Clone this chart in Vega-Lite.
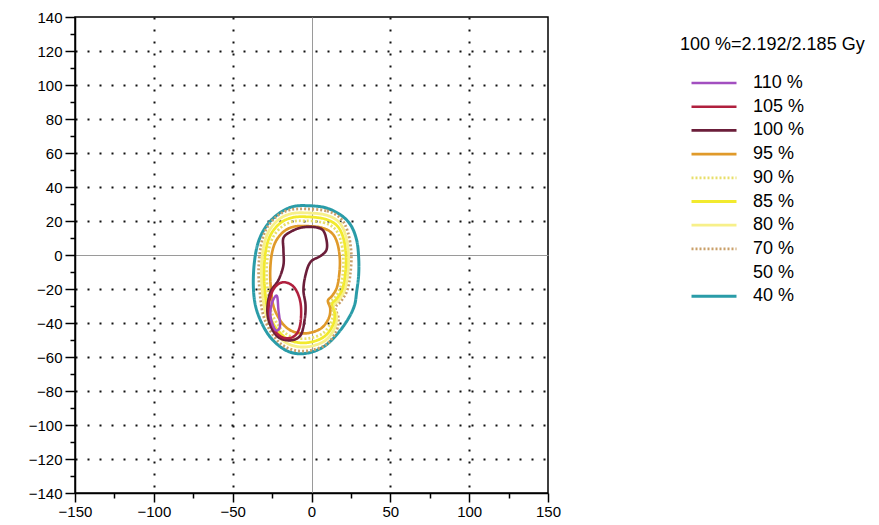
{
  "$schema": "https://vega.github.io/schema/vega-lite/v6.json",
  "width": 473,
  "height": 476,
  "autosize": {"type": "none"},
  "padding": {"left": 75, "top": 17, "right": 331, "bottom": 32},
  "background": "white",
  "config": {
    "view": {"stroke": "black", "strokeWidth": 1.5},
    "font": "Liberation Sans"
  },
  "data": {
    "values": [
      {"l": "40 %", "o": 1, "x": -2.5, "y": 29},
      {"l": "40 %", "o": 2, "x": 8.9, "y": 27.8},
      {"l": "40 %", "o": 3, "x": 18.4, "y": 23.6},
      {"l": "40 %", "o": 4, "x": 24.8, "y": 17.7},
      {"l": "40 %", "o": 5, "x": 28.6, "y": 8.9},
      {"l": "40 %", "o": 6, "x": 29.9, "y": -1.2},
      {"l": "40 %", "o": 7, "x": 29.9, "y": -11.8},
      {"l": "40 %", "o": 8, "x": 28.6, "y": -21.9},
      {"l": "40 %", "o": 9, "x": 27.3, "y": -29.5},
      {"l": "40 %", "o": 10, "x": 23.5, "y": -37.2},
      {"l": "40 %", "o": 11, "x": 17.2, "y": -45.5},
      {"l": "40 %", "o": 12, "x": 8.9, "y": -53.2},
      {"l": "40 %", "o": 13, "x": -0.6, "y": -57.3},
      {"l": "40 %", "o": 14, "x": -10.2, "y": -57.9},
      {"l": "40 %", "o": 15, "x": -18.4, "y": -54.9},
      {"l": "40 %", "o": 16, "x": -26.1, "y": -48.4},
      {"l": "40 %", "o": 17, "x": -31.8, "y": -39.6},
      {"l": "40 %", "o": 18, "x": -35.6, "y": -29.5},
      {"l": "40 %", "o": 19, "x": -36.9, "y": -17.7},
      {"l": "40 %", "o": 20, "x": -36.2, "y": -4.1},
      {"l": "40 %", "o": 21, "x": -33.7, "y": 7.7},
      {"l": "40 %", "o": 22, "x": -28.6, "y": 17.1},
      {"l": "40 %", "o": 23, "x": -21.0, "y": 24.2},
      {"l": "40 %", "o": 24, "x": -12.1, "y": 28.4},

      {"l": "70 %", "o": 1, "x": -3.8, "y": 27.1},
      {"l": "70 %", "o": 2, "x": 9.7, "y": 25.9},
      {"l": "70 %", "o": 3, "x": 18.5, "y": 21.5},
      {"l": "70 %", "o": 4, "x": 23.1, "y": 13.3},
      {"l": "70 %", "o": 5, "x": 25.2, "y": 0.8},
      {"l": "70 %", "o": 6, "x": 24.5, "y": -11.7},
      {"l": "70 %", "o": 7, "x": 22.5, "y": -21.1},
      {"l": "70 %", "o": 8, "x": 18.5, "y": -27.4},
      {"l": "70 %", "o": 9, "x": 15.1, "y": -31.1},
      {"l": "70 %", "o": 10, "x": 17.1, "y": -37.3},
      {"l": "70 %", "o": 11, "x": 15.7, "y": -44.8},
      {"l": "70 %", "o": 12, "x": 9.7, "y": -52.4},
      {"l": "70 %", "o": 13, "x": -0.4, "y": -56.1},
      {"l": "70 %", "o": 14, "x": -10.6, "y": -56.1},
      {"l": "70 %", "o": 15, "x": -19.3, "y": -52.4},
      {"l": "70 %", "o": 16, "x": -26.0, "y": -44.8},
      {"l": "70 %", "o": 17, "x": -30.7, "y": -34.9},
      {"l": "70 %", "o": 18, "x": -32.7, "y": -22.4},
      {"l": "70 %", "o": 19, "x": -33.5, "y": -8.6},
      {"l": "70 %", "o": 20, "x": -32.1, "y": 5.2},
      {"l": "70 %", "o": 21, "x": -28.7, "y": 15.3},
      {"l": "70 %", "o": 22, "x": -22.0, "y": 22.8},
      {"l": "70 %", "o": 23, "x": -13.9, "y": 26.5},

      {"l": "80 %", "o": 1, "x": -3.8, "y": 24.8},
      {"l": "80 %", "o": 2, "x": 8.9, "y": 23.6},
      {"l": "80 %", "o": 3, "x": 17.2, "y": 19.5},
      {"l": "80 %", "o": 4, "x": 21.6, "y": 11.8},
      {"l": "80 %", "o": 5, "x": 23.5, "y": 0.0},
      {"l": "80 %", "o": 6, "x": 22.9, "y": -11.8},
      {"l": "80 %", "o": 7, "x": 21.0, "y": -20.7},
      {"l": "80 %", "o": 8, "x": 17.2, "y": -26.6},
      {"l": "80 %", "o": 9, "x": 14.0, "y": -30.1},
      {"l": "80 %", "o": 10, "x": 15.9, "y": -36.0},
      {"l": "80 %", "o": 11, "x": 14.6, "y": -43.1},
      {"l": "80 %", "o": 12, "x": 8.9, "y": -50.2},
      {"l": "80 %", "o": 13, "x": -0.6, "y": -53.7},
      {"l": "80 %", "o": 14, "x": -10.2, "y": -53.7},
      {"l": "80 %", "o": 15, "x": -18.4, "y": -50.2},
      {"l": "80 %", "o": 16, "x": -24.8, "y": -43.1},
      {"l": "80 %", "o": 17, "x": -29.2, "y": -33.7},
      {"l": "80 %", "o": 18, "x": -31.1, "y": -21.9},
      {"l": "80 %", "o": 19, "x": -31.8, "y": -8.9},
      {"l": "80 %", "o": 20, "x": -30.5, "y": 4.1},
      {"l": "80 %", "o": 21, "x": -27.3, "y": 13.6},
      {"l": "80 %", "o": 22, "x": -21.0, "y": 20.7},
      {"l": "80 %", "o": 23, "x": -13.3, "y": 24.2},

      {"l": "85 %", "o": 1, "x": -3.8, "y": 22.5},
      {"l": "85 %", "o": 2, "x": 8.1, "y": 21.3},
      {"l": "85 %", "o": 3, "x": 15.9, "y": 17.5},
      {"l": "85 %", "o": 4, "x": 20.1, "y": 10.3},
      {"l": "85 %", "o": 5, "x": 21.9, "y": -0.8},
      {"l": "85 %", "o": 6, "x": 21.3, "y": -11.9},
      {"l": "85 %", "o": 7, "x": 19.5, "y": -20.3},
      {"l": "85 %", "o": 8, "x": 15.9, "y": -25.8},
      {"l": "85 %", "o": 9, "x": 12.9, "y": -29.1},
      {"l": "85 %", "o": 10, "x": 14.7, "y": -34.7},
      {"l": "85 %", "o": 11, "x": 13.5, "y": -41.4},
      {"l": "85 %", "o": 12, "x": 8.1, "y": -48.0},
      {"l": "85 %", "o": 13, "x": -0.8, "y": -51.3},
      {"l": "85 %", "o": 14, "x": -9.8, "y": -51.3},
      {"l": "85 %", "o": 15, "x": -17.5, "y": -48.0},
      {"l": "85 %", "o": 16, "x": -23.6, "y": -41.4},
      {"l": "85 %", "o": 17, "x": -27.7, "y": -32.5},
      {"l": "85 %", "o": 18, "x": -29.5, "y": -21.4},
      {"l": "85 %", "o": 19, "x": -30.1, "y": -9.2},
      {"l": "85 %", "o": 20, "x": -28.9, "y": 3.0},
      {"l": "85 %", "o": 21, "x": -25.9, "y": 11.9},
      {"l": "85 %", "o": 22, "x": -20.0, "y": 18.6},
      {"l": "85 %", "o": 23, "x": -12.7, "y": 21.9},

      {"l": "90 %", "o": 1, "x": -3.8, "y": 20.1},
      {"l": "90 %", "o": 2, "x": 7.4, "y": 19.1},
      {"l": "90 %", "o": 3, "x": 14.7, "y": 15.5},
      {"l": "90 %", "o": 4, "x": 18.5, "y": 8.7},
      {"l": "90 %", "o": 5, "x": 20.2, "y": -1.7},
      {"l": "90 %", "o": 6, "x": 19.7, "y": -12.1},
      {"l": "90 %", "o": 7, "x": 18.0, "y": -19.9},
      {"l": "90 %", "o": 8, "x": 14.7, "y": -25.1},
      {"l": "90 %", "o": 9, "x": 11.8, "y": -28.2},
      {"l": "90 %", "o": 10, "x": 13.5, "y": -33.4},
      {"l": "90 %", "o": 11, "x": 12.4, "y": -39.6},
      {"l": "90 %", "o": 12, "x": 7.4, "y": -45.9},
      {"l": "90 %", "o": 13, "x": -1.0, "y": -48.9},
      {"l": "90 %", "o": 14, "x": -9.5, "y": -48.9},
      {"l": "90 %", "o": 15, "x": -16.7, "y": -45.9},
      {"l": "90 %", "o": 16, "x": -22.3, "y": -39.6},
      {"l": "90 %", "o": 17, "x": -26.2, "y": -31.3},
      {"l": "90 %", "o": 18, "x": -27.8, "y": -21.0},
      {"l": "90 %", "o": 19, "x": -28.5, "y": -9.5},
      {"l": "90 %", "o": 20, "x": -27.3, "y": 1.9},
      {"l": "90 %", "o": 21, "x": -24.5, "y": 10.3},
      {"l": "90 %", "o": 22, "x": -19.0, "y": 16.5},
      {"l": "90 %", "o": 23, "x": -12.2, "y": 19.6},

      {"l": "95 %", "o": 1, "x": -3.8, "y": 17.0},
      {"l": "95 %", "o": 2, "x": 6.3, "y": 16.1},
      {"l": "95 %", "o": 3, "x": 13.0, "y": 12.8},
      {"l": "95 %", "o": 4, "x": 16.5, "y": 6.6},
      {"l": "95 %", "o": 5, "x": 18.0, "y": -2.8},
      {"l": "95 %", "o": 6, "x": 17.5, "y": -12.2},
      {"l": "95 %", "o": 7, "x": 16.0, "y": -19.4},
      {"l": "95 %", "o": 8, "x": 13.0, "y": -24.1},
      {"l": "95 %", "o": 9, "x": 10.4, "y": -26.9},
      {"l": "95 %", "o": 10, "x": 11.9, "y": -31.6},
      {"l": "95 %", "o": 11, "x": 10.9, "y": -37.3},
      {"l": "95 %", "o": 12, "x": 6.3, "y": -43.0},
      {"l": "95 %", "o": 13, "x": -1.3, "y": -45.8},
      {"l": "95 %", "o": 14, "x": -9.0, "y": -45.8},
      {"l": "95 %", "o": 15, "x": -15.5, "y": -43.0},
      {"l": "95 %", "o": 16, "x": -20.6, "y": -37.3},
      {"l": "95 %", "o": 17, "x": -24.2, "y": -29.8},
      {"l": "95 %", "o": 18, "x": -25.7, "y": -20.3},
      {"l": "95 %", "o": 19, "x": -26.2, "y": -9.9},
      {"l": "95 %", "o": 20, "x": -25.2, "y": 0.5},
      {"l": "95 %", "o": 21, "x": -22.6, "y": 8.1},
      {"l": "95 %", "o": 22, "x": -17.6, "y": 13.8},
      {"l": "95 %", "o": 23, "x": -11.4, "y": 16.6},

      {"l": "100 %", "o": 1, "x": -17.8, "y": 10.0},
      {"l": "100 %", "o": 2, "x": -13.3, "y": 13.6},
      {"l": "100 %", "o": 3, "x": -7.0, "y": 16.0},
      {"l": "100 %", "o": 4, "x": 0.6, "y": 16.5},
      {"l": "100 %", "o": 5, "x": 7.0, "y": 14.8},
      {"l": "100 %", "o": 6, "x": 9.5, "y": 8.9},
      {"l": "100 %", "o": 7, "x": 9.5, "y": 3.0},
      {"l": "100 %", "o": 8, "x": 5.7, "y": -0.6},
      {"l": "100 %", "o": 9, "x": -0.6, "y": -4.1},
      {"l": "100 %", "o": 10, "x": -3.8, "y": -11.8},
      {"l": "100 %", "o": 11, "x": -5.1, "y": -20.7},
      {"l": "100 %", "o": 12, "x": -3.8, "y": -29.5},
      {"l": "100 %", "o": 13, "x": -4.4, "y": -38.4},
      {"l": "100 %", "o": 14, "x": -7.0, "y": -47.3},
      {"l": "100 %", "o": 15, "x": -13.3, "y": -50.2},
      {"l": "100 %", "o": 16, "x": -21.0, "y": -48.4},
      {"l": "100 %", "o": 17, "x": -26.1, "y": -41.3},
      {"l": "100 %", "o": 18, "x": -28.0, "y": -32.5},
      {"l": "100 %", "o": 19, "x": -26.1, "y": -21.9},
      {"l": "100 %", "o": 20, "x": -21.0, "y": -14.8},
      {"l": "100 %", "o": 21, "x": -17.8, "y": -5.9},
      {"l": "100 %", "o": 22, "x": -17.8, "y": 3.0},

      {"l": "105 %", "o": 1, "x": -24, "y": -20},
      {"l": "105 %", "o": 2, "x": -18, "y": -16},
      {"l": "105 %", "o": 3, "x": -11, "y": -19},
      {"l": "105 %", "o": 4, "x": -7, "y": -28},
      {"l": "105 %", "o": 5, "x": -7, "y": -40},
      {"l": "105 %", "o": 6, "x": -10, "y": -47},
      {"l": "105 %", "o": 7, "x": -16, "y": -49},
      {"l": "105 %", "o": 8, "x": -22, "y": -46},
      {"l": "105 %", "o": 9, "x": -26, "y": -38},
      {"l": "105 %", "o": 10, "x": -27, "y": -29},

      {"l": "110 %", "o": 1, "x": -25, "y": -28},
      {"l": "110 %", "o": 2, "x": -22, "y": -24},
      {"l": "110 %", "o": 3, "x": -21, "y": -32},
      {"l": "110 %", "o": 4, "x": -20, "y": -42},
      {"l": "110 %", "o": 5, "x": -23, "y": -44},
      {"l": "110 %", "o": 6, "x": -26, "y": -36}
    ]
  },
  "mark": {"type": "line", "interpolate": "cardinal-closed", "clip": true},
  "encoding": {
    "x": {
      "field": "x", "type": "quantitative",
      "scale": {"domain": [-150, 150], "nice": false, "zero": false},
      "axis": {
        "title": null,
        "values": [-150, -125, -100, -75, -50, -25, 0, 25, 50, 75, 100, 125, 150],
        "labelExpr": "datum.value % 50 === 0 ? datum.label : ''",
        "labelFont": "Liberation Sans", "labelFontSize": 15, "labelColor": "black",
        "labelPadding": 2, "labelFlush": false,
        "domainColor": "black", "domainWidth": 1.5,
        "tickColor": "black", "tickWidth": 1.5,
        "tickSize": {"condition": {"test": "datum.value % 50 !== 0", "value": 5}, "value": 9},
        "grid": true,
        "gridColor": {"condition": {"test": "datum.value === 0", "value": "#9a9a9a"}, "value": "#111"},
        "gridDash": {"condition": {"test": "datum.value === 0", "value": []}, "value": [2, 10]},
        "gridWidth": {"condition": {"test": "datum.value === 0", "value": 1}, "value": 2},
        "gridOpacity": {"condition": {"test": "datum.value % 50 !== 0 || abs(datum.value) === 150", "value": 0}, "value": 1}
      }
    },
    "y": {
      "field": "y", "type": "quantitative",
      "scale": {"domain": [-140, 140], "nice": false, "zero": false},
      "axis": {
        "title": null,
        "values": [-140, -130, -120, -110, -100, -90, -80, -70, -60, -50, -40, -30, -20, -10, 0, 10, 20, 30, 40, 50, 60, 70, 80, 90, 100, 110, 120, 130, 140],
        "labelExpr": "datum.value % 20 === 0 ? datum.label : ''",
        "labelFont": "Liberation Sans", "labelFontSize": 15, "labelColor": "black",
        "labelPadding": 3, "labelFlush": false,
        "domainColor": "black", "domainWidth": 1.5,
        "tickColor": "black", "tickWidth": 1.5,
        "tickSize": {"condition": {"test": "datum.value % 20 !== 0", "value": 5}, "value": 10},
        "grid": true,
        "gridColor": {"condition": {"test": "datum.value === 0", "value": "#9a9a9a"}, "value": "#111"},
        "gridDash": {"condition": {"test": "datum.value === 0", "value": []}, "value": [2, 10]},
        "gridWidth": {"condition": {"test": "datum.value === 0", "value": 1}, "value": 2},
        "gridOpacity": {"condition": {"test": "datum.value % 20 !== 0 || abs(datum.value) === 140", "value": 0}, "value": 1}
      }
    },
    "order": {"field": "o", "type": "quantitative"},
    "color": {
      "field": "l", "type": "nominal",
      "scale": {
        "domain": ["110 %", "105 %", "100 %", "95 %", "90 %", "85 %", "80 %", "70 %", "50 %", "40 %"],
        "range": ["#a24fc0", "#b0203e", "#6b1e3a", "#e09a2a", "#e8df6a", "#f2ea2e", "#f7f08a", "#c9a06a", "#ffffff", "#2a9ca8"]
      },
      "legend": {
        "title": "100 %=2.192/2.185 Gy",
        "orient": "none", "legendX": 605, "legendY": 19,
        "padding": 0,
        "titleFont": "Liberation Sans", "titleFontSize": 18, "titleFontWeight": "normal", "titleColor": "black",
        "titlePadding": 20, "titleLimit": 300,
        "labelFont": "Liberation Sans", "labelFontSize": 18, "labelColor": "black",
        "labelOffset": 15, "symbolOffset": 10,
        "symbolType": "stroke", "symbolSize": 2025, "symbolStrokeWidth": 1.5,
        "clipHeight": 18,
        "rowPadding": 5.7
      }
    },
    "strokeDash": {
      "field": "l", "type": "nominal",
      "scale": {
        "domain": ["110 %", "105 %", "100 %", "95 %", "90 %", "85 %", "80 %", "70 %", "50 %", "40 %"],
        "range": [[1, 0], [1, 0], [1, 0], [1, 0], [2, 2], [1, 0], [1, 0], [2, 2], [1, 0], [1, 0]]
      },
      "legend": {"title": "100 %=2.192/2.185 Gy"}
    },
    "strokeWidth": {
      "field": "l", "type": "nominal",
      "scale": {
        "domain": ["110 %", "105 %", "100 %", "95 %", "90 %", "85 %", "80 %", "70 %", "50 %", "40 %"],
        "range": [2.5, 3, 1.5, 2, 3, 6, 6, 1.5, 1, 2.5]
      },
      "legend": null
    }
  }
}
